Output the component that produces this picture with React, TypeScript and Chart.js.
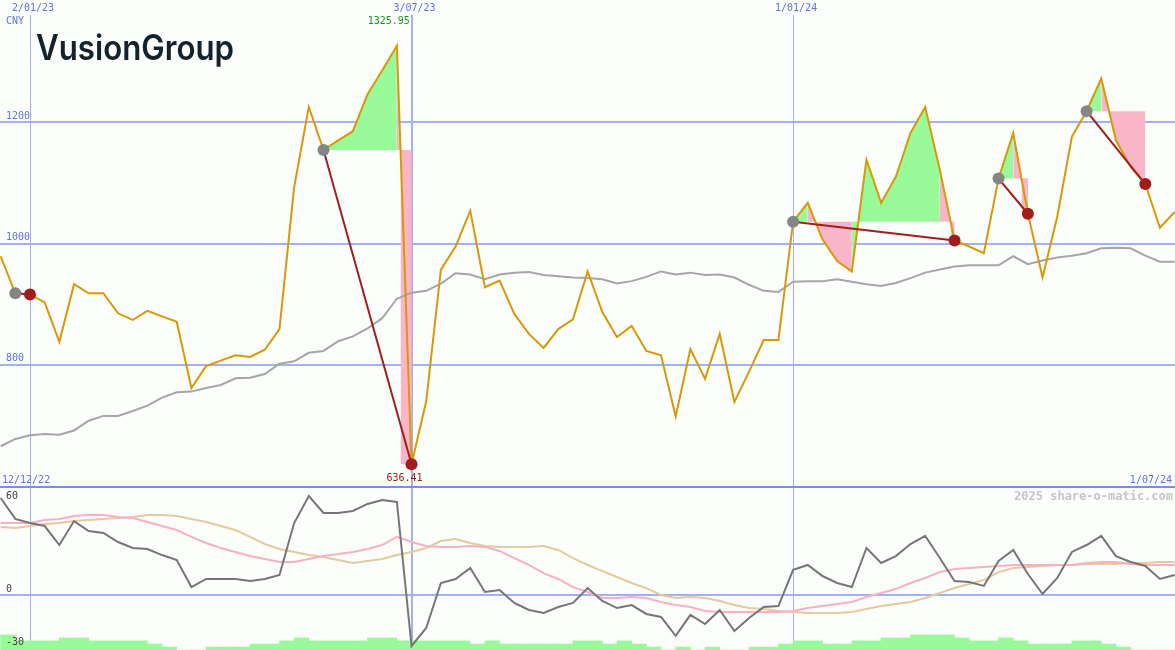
import React, { useEffect, useRef } from "react";
import { Chart, registerables } from "chart.js";

Chart.register(...registerables);

// ---------- data (weekly, first week 19/12/22) ----------
const brand = "VusionGroup";
const currency = "CNY";
const dateTickIdx = [2, 28, 54];
const dateTickLabels = ["2/01/23", "3/07/23", "1/01/24"];
const rangeStartLabel = "12/12/22";
const rangeEndLabel = "1/07/24";
const priceTicks = [800, 1000, 1200];
const oscTicks = [60, 0, -30];
const watermark = "2025 share-o-matic.com";

const price = [
  979, 918, 916, 903, 838, 933, 918, 918, 885, 874,
  889, 880, 871, 762, 798, 807, 816, 813, 825, 859,
  1093, 1225, 1154, 1170, 1185, 1246, 1285, 1325.95, 636.41, 740,
  957, 995, 1054, 928, 939, 884, 851, 828, 859, 875,
  954, 887, 846, 864, 823, 816, 715, 826, 777, 851,
  739, 789, 841, 841, 1036, 1067, 1007, 971, 954, 1138,
  1067, 1110, 1182, 1225, 1121, 1005, 995, 984, 1107, 1182,
  1049, 944, 1044, 1176, 1218, 1272, 1170, 1126, 1098, 1026,
  1052,
];

const movingAvg = [
  666, 678, 684, 686, 685, 692, 708, 716, 716, 724,
  733, 746, 755, 756, 762, 767, 778, 779, 785, 802,
  806, 820, 823, 839, 847, 860, 877, 909, 919, 922,
  934, 951, 949, 941, 949, 952, 953, 948, 946, 944,
  943, 941, 934, 938, 945, 954, 949, 952, 948, 949,
  944, 932, 922, 920, 937, 938, 938, 941, 937, 933,
  930, 935, 943, 952, 957, 962, 964, 964, 964, 979,
  966, 972, 977, 980, 984, 992, 993, 992, 980, 970,
  970,
];

const oscillator = [
  58.8, 46.1, 43.6, 41.8, 30.3, 44.8, 38.8, 37.6, 32.1, 28.5,
  27.9, 24.2, 21.2, 4.8, 9.7, 9.7, 9.7, 8.5, 9.7, 12.1,
  43.6, 60, 49.7, 49.7, 50.9, 55.2, 57.6, 56.4, -30.9, -20,
  7.3, 9.7, 16.4, 1.8, 3, -4.8, -9.1, -10.9, -7.3, -4.8,
  4.2, -3.6, -7.9, -6.1, -11.5, -13.3, -24.8, -12.1, -17.6, -9.1,
  -21.8, -13.9, -7.3, -6.7, 15.2, 18.2, 11.5, 7.3, 4.8, 28.5,
  19.4, 23.6, 30.9, 35.8, 22.4, 8.5, 7.9, 5.5, 20.6, 27.3,
  12.7, 0.6, 10.3, 26.1, 30.3, 35.8, 23.6, 20, 17.6, 9.7,
  12.1,
];

const oscPink = [
  43.6, 43.6, 43.6, 45.5, 46.1, 47.9, 48.5, 48.5, 47.3, 46.7,
  44.2, 41.8, 39.4, 35.2, 31.5, 28.5, 26.1, 23.6, 21.8, 20,
  20, 21.8, 23.6, 24.8, 26.1, 27.9, 30.3, 35.2, 32.1, 29.7,
  29.1, 29.1, 29.7, 29.1, 26.7, 22.4, 18.2, 13.3, 9.7, 4.8,
  1.8, -1.8, -1.8, -1.2, -1.8, -4.2, -6.1, -7.3, -9.7, -10.3,
  -10.3, -10.3, -10.3, -10.3, -9.7, -7.9, -6.7, -5.5, -4.2, -1.2,
  1.2, 3.6, 7.3, 10.3, 13.9, 15.8, 16.4, 17, 17.6, 18.2,
  18.2, 18.2, 18.2, 18.2, 19.4, 20, 20, 18.8, 18.2, 18.2,
  18.2,
];

const oscTan = [
  41.2, 40.6, 41.8, 43, 43.6, 44.8, 45.5, 46.1, 46.7, 47.3,
  48.5, 48.5, 47.9, 46.1, 44.2, 41.8, 39.4, 35.2, 30.9, 27.9,
  26.1, 24.2, 23, 21.2, 19.4, 20.6, 21.8, 24.2, 26.1, 28.5,
  32.7, 33.9, 31.5, 29.7, 29.1, 29.1, 29.1, 29.7, 27.3, 22.4,
  18.2, 14.5, 10.9, 7.3, 4.2, 0, -1.8, -1.2, -1.8, -3.6,
  -6.1, -7.9, -8.5, -9.7, -10.3, -10.9, -10.9, -10.9, -10.3, -8.5,
  -6.7, -5.5, -4.2, -1.8, 1.2, 4.2, 6.7, 9.1, 13.9, 16.4,
  17, 17.6, 18.2, 18.2, 18.8, 18.8, 18.8, 19.4, 19.4, 20,
  20,
];

const volume = [
  9.1, 5.5, 5.5, 5.5, 7.3, 7.3, 5.5, 5.5, 5.5, 5.5,
  3.6, 1.8, 0, 0, 1.8, 1.8, 1.8, 3.6, 3.6, 5.5,
  7.3, 5.5, 5.5, 5.5, 5.5, 7.3, 7.3, 5.5, 5.5, 5.5,
  5.5, 5.5, 3.6, 5.5, 3.6, 3.6, 3.6, 3.6, 3.6, 5.5,
  5.5, 3.6, 5.5, 3.6, 1.8, 0, 1.8, 0, 1.8, 0,
  0, 1.8, 1.8, 3.6, 5.5, 5.5, 3.6, 3.6, 5.5, 5.5,
  7.3, 7.3, 9.1, 9.1, 9.1, 7.3, 5.5, 5.5, 7.3, 5.5,
  3.6, 3.6, 3.6, 5.5, 5.5, 3.6, 1.8, 0, 0, 0,
  0,
];

const tradeEntry = [1, 22, 54, 68, 74];
const tradeExit = [2, 28, 65, 70, 78];
const greenRuns = [[22, 27], [54, 55], [58, 64], [68, 69], [74, 75]];
const pinkRuns = [[27, 28], [55, 58], [64, 65], [69, 70], [75, 78]];

// ---------- geometry / style ----------
const W = 1175;
const TOP_H = 487;
const BOT_H = 163;
const X_MIN = -0.0443;
const X_MAX = 80.024;
const P_MIN = 598.85;
const P_MAX = 1401.15;
const O_MIN = -33.33;
const O_MAX = 65.45;

const BG = "#fcfefc";
const GRID = "#a3b1f3";
const SEP = "#7d8af0";
const LABEL = "#5f70f0";
const GREEN = "#98fa98";
const PINK = "#fab6c8";
const PRICE_C = "#d9980a";
const MA_C = "#a6a6a6";
const TRADE_C = "#a01e1e";
const dateLineW = [1, 2, 1];
const MONO = "'DejaVu Sans Mono', monospace";

const pts = (arr: number[], off = 0) => arr.map((y, i) => ({ x: i + off, y }));

function entryFor(a: number, b: number) {
  for (let t = 0; t < tradeEntry.length; t++) {
    if (a >= tradeEntry[t] && b <= tradeExit[t]) return price[tradeEntry[t]];
  }
  return price[a];
}

function runDataset(run: number[], color: string) {
  const [a, b] = run;
  const data = [];
  for (let k = a; k <= b; k++) data.push({ x: k, y: price[k] });
  return {
    data,
    fill: { value: entryFor(a, b) },
    backgroundColor: color,
    borderWidth: 0,
    pointRadius: 0,
    order: 20,
  };
}

const baseOptions = (yMin: number, yMax: number) => ({
  animation: false,
  responsive: false,
  devicePixelRatio: 1,
  events: [],
  layout: { padding: 0, autoPadding: false },
  plugins: { legend: { display: false }, tooltip: { enabled: false } },
  elements: { line: { tension: 0 }, point: { radius: 0 } },
  scales: {
    x: { type: "linear", min: X_MIN, max: X_MAX, display: false, offset: false },
    y: { type: "linear", min: yMin, max: yMax, display: false },
  },
});

function TopChart() {
  const ref = useRef<HTMLCanvasElement>(null);
  useEffect(() => {
    const canvas = ref.current!;
    const datasets: any[] = [];
    greenRuns.forEach((r) => datasets.push(runDataset(r, GREEN)));
    pinkRuns.forEach((r) => datasets.push(runDataset(r, PINK)));
    // drop block: final segment crossing below entry level
    tradeEntry.forEach((e, t) => {
      const x = tradeExit[t];
      const entry = price[e];
      const p0 = price[x - 1];
      const p1 = price[x];
      if (x - 1 > e && p0 > entry && p1 < entry) {
        const c = x - 1 + (p0 - entry) / (p0 - p1);
        datasets.push({
          data: [{ x: c, y: entry }, { x, y: entry }],
          fill: { value: p1 },
          backgroundColor: PINK,
          borderWidth: 0,
          pointRadius: 0,
          order: 19,
        });
      }
    });
    datasets.push({
      data: pts(movingAvg),
      borderColor: MA_C,
      borderWidth: 2,
      pointRadius: 0,
      fill: false,
      order: 15,
    });
    datasets.push({
      data: pts(price),
      borderColor: PRICE_C,
      borderWidth: 2,
      pointRadius: 0,
      fill: false,
      order: 10,
    });
    tradeEntry.forEach((e, t) => {
      const x = tradeExit[t];
      datasets.push({
        data: [{ x: e, y: price[e] }, { x, y: price[x] }],
        borderColor: TRADE_C,
        borderWidth: 2,
        pointRadius: 0,
        fill: false,
        order: 5,
      });
    });
    datasets.push({
      data: tradeEntry.map((e) => ({ x: e, y: price[e] })),
      showLine: false,
      pointRadius: 6,
      pointBackgroundColor: "#858585",
      pointBorderWidth: 0,
      order: 2,
    });
    datasets.push({
      data: tradeExit.map((e) => ({ x: e, y: price[e] })),
      showLine: false,
      pointRadius: 6,
      pointBackgroundColor: "#a31c1c",
      pointBorderWidth: 0,
      order: 1,
    });

    const decor = {
      id: "topDecor",
      beforeDatasetsDraw(chart: any) {
        const ctx = chart.ctx;
        const xs = chart.scales.x;
        const ys = chart.scales.y;
        ctx.save();
        ctx.fillStyle = GRID;
        priceTicks.forEach((v) => {
          const y = Math.round(ys.getPixelForValue(v));
          ctx.fillRect(0, y - 1, W, 2);
        });
        dateTickIdx.forEach((k, i) => {
          const x = Math.round(xs.getPixelForValue(k));
          const w = dateLineW[i];
          ctx.fillRect(x - (w > 1 ? 1 : 0), 15, w, TOP_H - 15);
        });
        ctx.fillStyle = SEP;
        ctx.fillRect(0, TOP_H - 1, W, 1);
        ctx.restore();
      },
      afterDatasetsDraw(chart: any) {
        const ctx = chart.ctx;
        const xs = chart.scales.x;
        const ys = chart.scales.y;
        ctx.save();
        ctx.font = `10px ${MONO}`;
        ctx.textBaseline = "middle";
        ctx.fillStyle = LABEL;
        ctx.textAlign = "center";
        dateTickIdx.forEach((k, i) => {
          ctx.fillText(dateTickLabels[i], xs.getPixelForValue(k) + 3, 8);
        });
        ctx.textAlign = "left";
        ctx.fillText(currency, 6, 21);
        priceTicks.forEach((v) => {
          ctx.fillText(String(v), 6, ys.getPixelForValue(v) - 6);
        });
        ctx.fillText(rangeStartLabel, 2, 480);
        ctx.textAlign = "right";
        ctx.fillText(rangeEndLabel, W - 3, 480);
        // extremes
        const maxV = Math.max(...price);
        const minV = Math.min(...price);
        const iMax = price.indexOf(maxV);
        const iMin = price.indexOf(minV);
        ctx.fillStyle = "#1a9a1a";
        ctx.textAlign = "right";
        ctx.fillText(maxV.toFixed(2), xs.getPixelForValue(iMax) + 13, 21);
        ctx.fillStyle = "#a01818";
        ctx.textAlign = "center";
        ctx.fillText(minV.toFixed(2), xs.getPixelForValue(iMin) - 7, ys.getPixelForValue(minV) + 14);
        // brand
        ctx.fillStyle = "#14232b";
        ctx.textAlign = "left";
        ctx.textBaseline = "alphabetic";
        ctx.font = "600 35px Inter, 'Noto Sans', sans-serif";
        const tw = ctx.measureText(brand).width;
        ctx.translate(36, 60);
        ctx.scale(198 / tw, 1);
        ctx.fillText(brand, 0, 0);
        ctx.restore();
      },
    };

    const chart = new Chart(canvas, {
      type: "line",
      data: { datasets },
      options: baseOptions(P_MIN, P_MAX),
      plugins: [decor],
    } as any);
    return () => chart.destroy();
  }, []);
  return <canvas ref={ref} width={W} height={TOP_H} style={{ display: "block" }} />;
}

function BottomChart() {
  const ref = useRef<HTMLCanvasElement>(null);
  useEffect(() => {
    const canvas = ref.current!;
    const datasets: any[] = [
      {
        type: "bar",
        data: volume.map((v, i) => ({ x: i + 0.5, y: [O_MIN, O_MIN + v] })),
        backgroundColor: GREEN,
        borderWidth: 0,
        barPercentage: 1,
        categoryPercentage: 1,
        order: 20,
      },
      { type: "line", data: pts(oscTan), borderColor: "#e4ca9c", borderWidth: 2, pointRadius: 0, order: 12 },
      { type: "line", data: pts(oscPink), borderColor: "#f8b0c6", borderWidth: 2, pointRadius: 0, order: 11 },
      { type: "line", data: pts(oscillator), borderColor: "#767676", borderWidth: 2, pointRadius: 0, order: 5 },
    ];
    const decor = {
      id: "botDecor",
      beforeDatasetsDraw(chart: any) {
        const ctx = chart.ctx;
        const xs = chart.scales.x;
        const ys = chart.scales.y;
        ctx.save();
        ctx.fillStyle = GRID;
        const y0 = Math.round(ys.getPixelForValue(0));
        ctx.fillRect(0, y0 - 1, W, 2);
        dateTickIdx.forEach((k, i) => {
          const x = Math.round(xs.getPixelForValue(k));
          const w = dateLineW[i];
          ctx.fillRect(x - (w > 1 ? 1 : 0), 0, w, BOT_H);
        });
        ctx.fillStyle = SEP;
        ctx.fillRect(0, 0, W, 1);
        ctx.restore();
      },
      afterDatasetsDraw(chart: any) {
        const ctx = chart.ctx;
        const ys = chart.scales.y;
        ctx.save();
        ctx.font = `10px ${MONO}`;
        ctx.textBaseline = "middle";
        ctx.textAlign = "left";
        ctx.fillStyle = "#404040";
        const shift = [0, -6, -2];
        oscTicks.forEach((v, i) => {
          ctx.fillText(String(v), 6, ys.getPixelForValue(v) + shift[i]);
        });
        ctx.font = `bold 12px ${MONO}`;
        ctx.fillStyle = "#c6c6c6";
        ctx.textAlign = "right";
        ctx.fillText(watermark, W - 2, 10);
        ctx.restore();
      },
    };
    const chart = new Chart(canvas, {
      type: "line",
      data: { datasets },
      options: baseOptions(O_MIN, O_MAX),
      plugins: [decor],
    } as any);
    return () => chart.destroy();
  }, []);
  return <canvas ref={ref} width={W} height={BOT_H} style={{ display: "block" }} />;
}

export default function App() {
  return (
    <div
      style={{
        position: "absolute",
        left: 0,
        top: 0,
        width: W,
        height: TOP_H + BOT_H,
        background: BG,
        overflow: "hidden",
      }}
    >
      <TopChart />
      <BottomChart />
    </div>
  );
}
